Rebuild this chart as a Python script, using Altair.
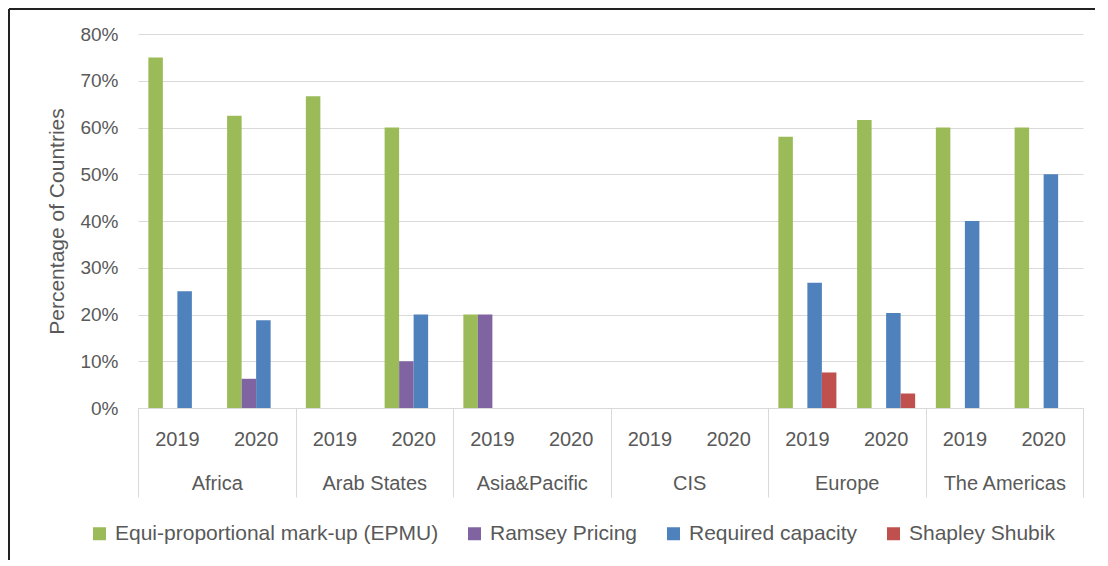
import altair as alt
import pandas as pd

regions = ["Africa", "Arab States", "Asia&Pacific", "CIS", "Europe", "The Americas"]
years = ["2019", "2020"]
series = ["Equi-proportional mark-up (EPMU)", "Ramsey Pricing", "Required capacity", "Shapley Shubik"]
colors = ["#9BBB59", "#8064A2", "#4F81BD", "#C0504D"]

# values per (region, year) in the order Africa 2019, Africa 2020, Arab 2019, ...
epmu = [0.75, 0.625, 0.667, 0.60, 0.20, 0.0, 0.0, 0.0, 0.58, 0.616, 0.60, 0.60]
ramsey = [0.0, 0.0625, 0.0, 0.10, 0.20, 0.0, 0.0, 0.0, 0.0, 0.0, 0.0, 0.0]
required = [0.25, 0.1875, 0.0, 0.20, 0.0, 0.0, 0.0, 0.0, 0.268, 0.203, 0.40, 0.50]
shapley = [0.0, 0.0, 0.0, 0.0, 0.0, 0.0, 0.0, 0.0, 0.076, 0.031, 0.0, 0.0]

keys = [f"{r}|{y}" for r in regions for y in years]
rows = []
for s, vals in zip(series, [epmu, ramsey, required, shapley]):
    i = 0
    for r in regions:
        for y in years:
            rows.append({"region": r, "year": y, "key": f"{r}|{y}", "series": s, "value": vals[i]})
            i += 1
df = pd.DataFrame(rows)

FONT = "Liberation Sans"
TXT = "#595959"
GRID = "#D9D9D9"
W = 945
H = 374

base = alt.Chart(df)

bars = base.mark_bar().encode(
    x=alt.X(
        "key:N",
        sort=keys,
        scale=alt.Scale(domain=keys, paddingInner=0.263, paddingOuter=0.1315),
        axis=alt.Axis(
            title=None, labelAngle=0, ticks=False, domainColor=GRID, domainWidth=1,
            labelExpr="split(datum.label, '|')[1]",
            labelPadding=21, labelFontSize=20, labelColor=TXT, labelFont=FONT, grid=False,
            orient="bottom",
        ),
    ),
    xOffset=alt.XOffset("series:N", sort=series, scale=alt.Scale(paddingInner=0, paddingOuter=0)),
    y=alt.Y(
        "value:Q",
        scale=alt.Scale(domain=[0, 0.8], nice=False),
        axis=alt.Axis(
            format="%", values=[0, 0.1, 0.2, 0.3, 0.4, 0.5, 0.6, 0.7, 0.8],
            title="Percentage of Countries", titleFontSize=21, titleFontWeight="normal",
            titleColor=TXT, titleFont=FONT, titlePadding=12,
            labelFontSize=19, labelColor=TXT, labelFont=FONT, labelPadding=20,
            ticks=False, domain=False, gridColor=GRID, gridWidth=1,
        ),
    ),
    color=alt.Color(
        "series:N",
        sort=series,
        scale=alt.Scale(domain=series, range=colors),
        legend=alt.Legend(
            title=None, orient="none", direction="horizontal", legendX=-49, legendY=489,
            symbolType="square", symbolSize=169, symbolStrokeWidth=0, labelOffset=5,
            labelFontSize=21, labelColor=TXT, labelFont=FONT, labelLimit=0, columnPadding=25,
        ),
    ),
)

region_axis = base.transform_filter(
    (alt.datum.series == series[0]) & (alt.datum.year == years[0])
).mark_point(opacity=0).encode(
    x=alt.X(
        "region:N",
        sort=regions,
        scale=alt.Scale(domain=regions, paddingInner=0, paddingOuter=0),
        axis=alt.Axis(
            title=None, orient="bottom", labelAngle=0, domain=False, grid=False,
            tickBand="extent", tickSize=89, tickColor=GRID, tickWidth=1,
            labelPadding=-24, labelFontSize=20, labelColor=TXT, labelFont=FONT,
        ),
    ),
    y=alt.value(H),
)

# chart frame (top and left edges)
one = base.transform_filter(
    (alt.datum.series == series[0]) & (alt.datum.key == keys[0])
)
frame_left = one.mark_rule(color="#222222", strokeWidth=2).encode(
    x=alt.value(-129), y=alt.value(-25), y2=alt.value(H + 152)
)
frame_top = one.mark_rule(color="#222222", strokeWidth=2).encode(
    x=alt.value(-129), x2=alt.value(W + 12), y=alt.value(-25)
)

chart = (
    alt.layer(bars, region_axis, frame_left, frame_top)
    .resolve_scale(x="independent")
    .properties(width=W, height=H, padding={"left": 0, "top": 0, "right": 0, "bottom": 0},
                background="white")
    .configure_view(stroke=None)
)

chart.save("out.html", embed_options={"renderer": "svg", "actions": False})
